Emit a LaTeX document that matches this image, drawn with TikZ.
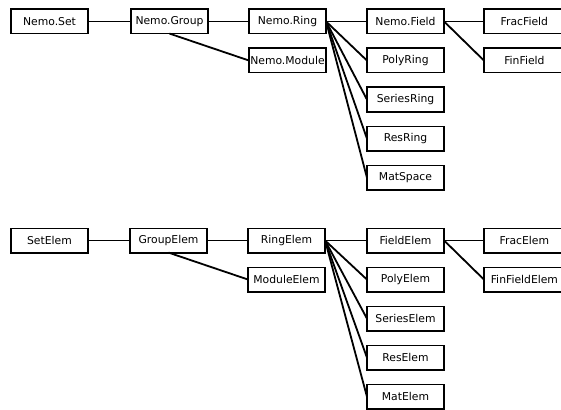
\documentclass[tikz,border=0pt]{standalone}
\usepackage{fontspec}
\setmainfont{DejaVu Sans}
\usetikzlibrary{positioning}

\begin{document}
\begin{tikzpicture}[
    node distance=14.8pt and 40.8pt,
    block/.style={rectangle, draw, line width=1.8pt, outer sep=0pt, minimum width=77.2pt, minimum height=24.2pt, inner xsep=1pt, font=\fontsize{10.8}{12}\selectfont},
    lastblock/.style={block, minimum width=81pt},
    line/.style={draw, line width=1.8pt}
]
\useasboundingbox (0,0) rectangle (561pt,-409pt);

% parent types
\node [block] (set) at (49.5pt,-21.5pt) {Nemo.Set};
\node [block, right=42.8pt of set] (group) {Nemo.Group};
\node [block, right=of group] (ring) {Nemo.Ring};
\node [block, below=of ring] (module) {Nemo.Module};
\node [block, right=of ring] (field) {Nemo.Field};
\node [block, below=of field] (polyring) {PolyRing};
\node [block, below=of polyring] (seriesring) {SeriesRing};
\node [block, below=of seriesring] (resring) {ResRing};
\node [block, below=of resring] (matspace) {MatSpace};
\node [lastblock, right=39.8pt of field] (fracfield) {FracField};
\node [lastblock, below=of fracfield] (finfield) {FinField};

% element types
\node [block, below=194.8pt of set] (setelem) {SetElem};
\node [block, right=41.8pt of setelem] (groupelem) {GroupElem};
\node [block, right=of groupelem] (ringelem) {RingElem};
\node [block, below=of ringelem] (moduleelem) {ModuleElem};
\node [block, right=41.8pt of ringelem] (fieldelem) {FieldElem};
\node [block, below=of fieldelem] (polyelem) {PolyElem};
\node [block, below=of polyelem] (serieselem) {SeriesElem};
\node [block, below=of serieselem] (reselem) {ResElem};
\node [block, below=of reselem] (matelem) {MatElem};
\node [lastblock, right=39.8pt of fieldelem] (fracelem) {FracElem};
\node [lastblock, below=of fracelem] (finfieldelem) {FinFieldElem};

\path [line] (set) -- (group);
\path [line] (group) -- (ring);
\path [line] (group.south) -- (module.west);
\foreach \child in {field, polyring, seriesring, resring, matspace}
    \path [line] (ring.east) -- (\child.west);
\path [line] (field.east) -- (fracfield.west);
\path [line] (field.east) -- (finfield.west);

\path [line] (setelem) -- (groupelem);
\path [line] (groupelem) -- (ringelem);
\path [line] (groupelem.south) -- (moduleelem.west);
\foreach \child in {fieldelem, polyelem, serieselem, reselem, matelem}
    \path [line] (ringelem.east) -- (\child.west);
\path [line] (fieldelem.east) -- (fracelem.west);
\path [line] (fieldelem.east) -- (finfieldelem.west);

\end{tikzpicture}
\end{document}
